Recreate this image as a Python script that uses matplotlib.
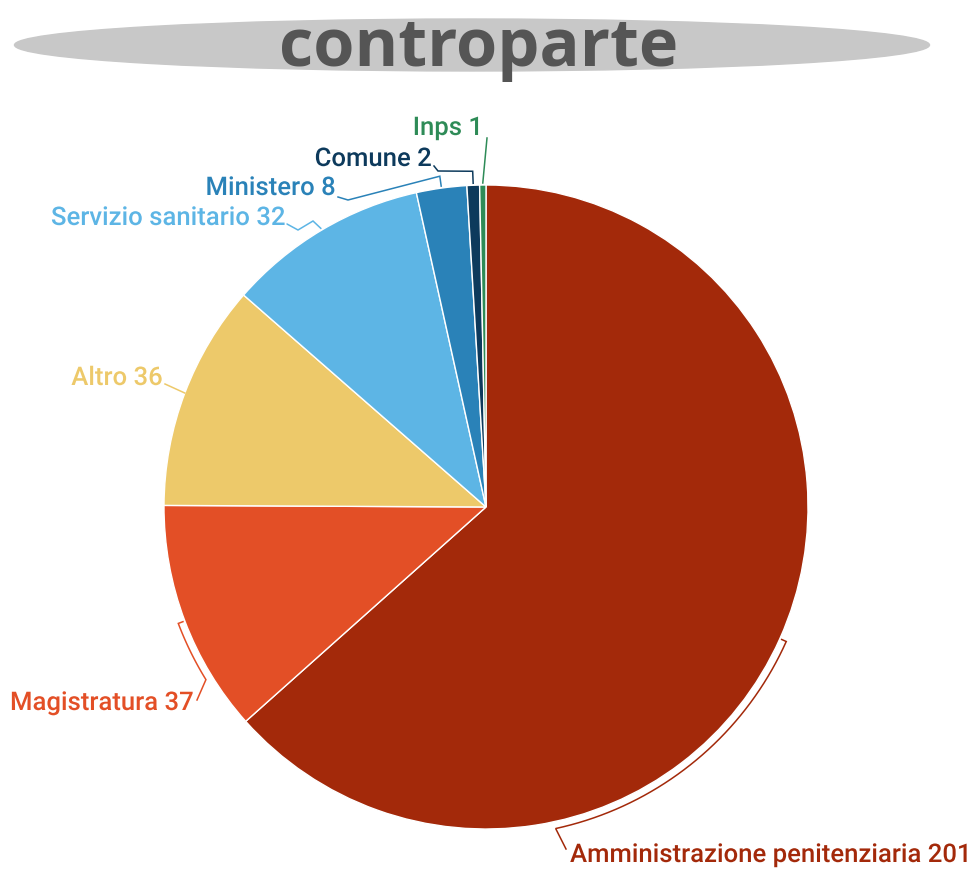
import numpy as np
import matplotlib.pyplot as plt
from matplotlib.patches import Ellipse
import matplotlib.patheffects as pe

# dati
labels = ["Amministrazione penitenziaria", "Magistratura", "Altro",
          "Servizio sanitario", "Ministero", "Comune", "Inps"]
values = [201, 37, 36, 32, 8, 2, 1]
colors = ["#A3290A", "#E34F26", "#EDC96A", "#5DB5E5", "#2A82B8", "#0D3A5C", "#2E8B57"]
title = "controparte"

W, H = 978, 869
cx, cy, R = 486, H - 507, 322

fig = plt.figure(figsize=(W / 100, H / 100), dpi=100)
ax = fig.add_axes([0, 0, 1, 1])

wedges, _ = ax.pie(values, colors=colors, startangle=90, counterclock=False,
                   center=(cx, cy), radius=R,
                   wedgeprops=dict(edgecolor="white", linewidth=1))
ax.set_xlim(0, W)
ax.set_ylim(0, H)
ax.set_aspect("equal")
ax.axis("off")

# titolo con ellisse grigia
ax.add_patch(Ellipse((472, H - 45), 915, 52, color="#C8C8C8", zorder=0))
ax.text(479, H - 49, title, ha="center", va="center", fontsize=48,
        fontweight="bold", family="Open Sans", color="#555555")


def ang(i, f):
    # angolo (gradi) lungo lo spicchio i, f=0 inizio in senso orario
    w = wedges[i]
    return w.theta2 - f * (w.theta2 - w.theta1)


def pt(a, r):
    t = np.radians(a)
    return cx + r * np.cos(t), cy + r * np.sin(t)


def px(x, y):
    return x, H - y


def arc(i, f0, f1, r, n=40):
    return [pt(ang(i, f), r) for f in np.linspace(f0, f1, n)]


lw = 1.1
paths = [
    # Amministrazione: parentesi lungo il bordo
    [pt(ang(0, 0.5), R + 2)] + arc(0, 0.5, 0.735, R + 7) + [px(566, 849)],
    # Magistratura
    [pt(ang(1, 0.5), R + 2)] + arc(1, 0.5, 0.24, R + 7) + [px(197, 700)],
    # Altro
    [pt(ang(2, 0.5), R), px(165, 384)],
    # Servizio sanitario
    [px(287, 224), px(298, 230), px(313, 221), pt(ang(3, 0.5), R + 2)],
    # Ministero
    [px(338, 197), px(348, 200), pt(ang(4, 0.5), R + 12), pt(ang(4, 0.5), R + 2)],
    # Comune
    [px(434, 166), px(438, 171), pt(ang(5, 0.5), R + 14), pt(ang(5, 0.5), R + 2)],
    # Inps
    [pt(ang(6, 0.5), R + 2), px(487, 138)],
]
for p, c in zip(paths, colors):
    xs, ys = zip(*p)
    ax.plot(xs, ys, color=c, lw=lw, solid_joinstyle="miter")

# etichette: (x, y, allineamento)
label_pos = [(570, 855, "left"), (194, 703, "right"), (163, 378, "right"),
             (286, 218, "right"), (336, 188, "right"), (432, 159, "right"),
             (483, 128, "right")]
halo = [pe.withStroke(linewidth=2.5, foreground="white")]
for lab, v, c, (x, y, al) in zip(labels, values, colors, label_pos):
    ax.text(x, H - y, f"{lab} {v}", ha=al, va="center", fontsize=18.5,
            family="Roboto", fontweight="medium", color=c, path_effects=halo)

fig.savefig("out.png", dpi=100)
